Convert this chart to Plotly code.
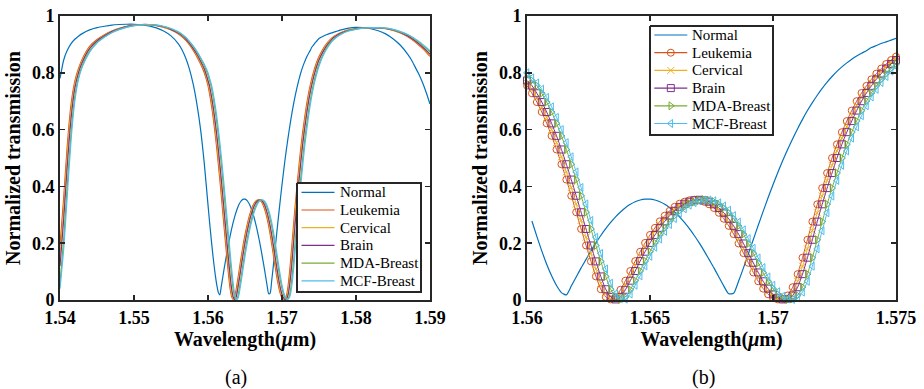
import plotly.graph_objects as go

# ---------------- data ----------------
wavelength = [
    1.5400, 1.5405, 1.5410, 1.5415, 1.5420, 1.5425, 1.5430, 1.5440, 1.5450, 1.5460,
    1.5470, 1.5480, 1.5490, 1.5500, 1.5510, 1.5520, 1.5530, 1.5540, 1.5550, 1.5560,
    1.5565, 1.5570, 1.5575, 1.5580, 1.5585, 1.5590, 1.5595,
    1.5600, 1.5602, 1.5604, 1.5606, 1.5608, 1.5610, 1.5612, 1.5614, 1.5616, 1.5618,
    1.5620, 1.5622, 1.5624, 1.5626, 1.5628, 1.5630, 1.5632, 1.5634, 1.5636, 1.5638,
    1.5640, 1.5642, 1.5644, 1.5646, 1.5648, 1.5650, 1.5652, 1.5654, 1.5656, 1.5658,
    1.5660, 1.5662, 1.5664, 1.5666, 1.5668, 1.5670, 1.5672, 1.5674, 1.5676, 1.5678,
    1.5680, 1.5682, 1.5684, 1.5686, 1.5688, 1.5690, 1.5692, 1.5694, 1.5696, 1.5698,
    1.5700, 1.5702, 1.5704, 1.5706, 1.5708, 1.5710, 1.5712, 1.5714, 1.5716, 1.5718,
    1.5720, 1.5722, 1.5724, 1.5726, 1.5728, 1.5730, 1.5732, 1.5734, 1.5736, 1.5738,
    1.5740, 1.5742, 1.5744, 1.5746, 1.5748, 1.5750,
    1.5755, 1.5760, 1.5765, 1.5770, 1.5775, 1.5780, 1.5790, 1.5800, 1.5810, 1.5820,
    1.5830, 1.5840, 1.5850, 1.5860, 1.5870, 1.5875, 1.5880, 1.5885, 1.5890, 1.5895, 1.5900,
]

normal = [
    0.780, 0.845, 0.880, 0.903, 0.918, 0.929, 0.938, 0.951, 0.959, 0.964,
    0.968, 0.970, 0.971, 0.971, 0.969, 0.965, 0.958, 0.947, 0.930, 0.902,
    0.880, 0.851, 0.812, 0.760, 0.690, 0.600, 0.480,
    0.335, 0.278, 0.224, 0.173, 0.126, 0.085, 0.051, 0.026, 0.018, 0.049,
    0.081, 0.113, 0.143, 0.173, 0.201, 0.227, 0.251, 0.273, 0.293, 0.310,
    0.325, 0.337, 0.346, 0.352, 0.355, 0.355, 0.352, 0.346, 0.337, 0.325,
    0.310, 0.293, 0.273, 0.251, 0.227, 0.201, 0.173, 0.143, 0.113, 0.081,
    0.049, 0.022, 0.024, 0.066, 0.113, 0.163, 0.213, 0.263, 0.312, 0.360,
    0.406, 0.450, 0.492, 0.531, 0.568, 0.603, 0.636, 0.667, 0.695, 0.721,
    0.745, 0.767, 0.787, 0.805, 0.821, 0.835, 0.848, 0.859, 0.869, 0.878,
    0.889, 0.896, 0.903, 0.909, 0.915, 0.921,
    0.928, 0.934, 0.939, 0.943, 0.947, 0.951, 0.957, 0.960, 0.959, 0.955,
    0.948, 0.937, 0.920, 0.897, 0.865, 0.845, 0.820, 0.795, 0.765, 0.730, 0.690,
]

leukemia = [
    0.190, 0.360, 0.550, 0.690, 0.770, 0.815, 0.848, 0.893, 0.917, 0.934,
    0.947, 0.957, 0.964, 0.968, 0.970, 0.969, 0.966, 0.960, 0.951, 0.937,
    0.927, 0.914, 0.898, 0.879, 0.857, 0.831, 0.800,
    0.755, 0.728, 0.697, 0.662, 0.622, 0.578, 0.530, 0.478, 0.424, 0.367,
    0.309, 0.250, 0.192, 0.136, 0.083, 0.038, 0.011, 0.002, 0.010, 0.036,
    0.068, 0.102, 0.137, 0.170, 0.201, 0.229, 0.254, 0.277, 0.297, 0.314,
    0.328, 0.339, 0.346, 0.351, 0.353, 0.351, 0.346, 0.337, 0.324, 0.307,
    0.286, 0.261, 0.232, 0.199, 0.165, 0.131, 0.097, 0.066, 0.040, 0.020,
    0.008, 0.002, 0.004, 0.016, 0.045, 0.091, 0.149, 0.212, 0.276, 0.337,
    0.394, 0.447, 0.500, 0.548, 0.591, 0.630, 0.667, 0.700, 0.729, 0.754,
    0.777, 0.797, 0.815, 0.831, 0.845, 0.857,
    0.882, 0.902, 0.917, 0.928, 0.936, 0.942, 0.951, 0.956, 0.958, 0.959,
    0.958, 0.955, 0.949, 0.940, 0.927, 0.918, 0.908, 0.897, 0.885, 0.872, 0.858,
]

cervical = [
    0.155, 0.320, 0.515, 0.665, 0.758, 0.808, 0.842, 0.889, 0.914, 0.932,
    0.946, 0.956, 0.963, 0.968, 0.970, 0.969, 0.967, 0.961, 0.952, 0.939,
    0.929, 0.917, 0.901, 0.883, 0.862, 0.836, 0.809,
    0.764, 0.742, 0.713, 0.680, 0.643, 0.600, 0.554, 0.504, 0.451, 0.396,
    0.338, 0.280, 0.221, 0.164, 0.109, 0.059, 0.022, 0.005, 0.003, 0.021,
    0.052, 0.085, 0.120, 0.154, 0.186, 0.215, 0.242, 0.266, 0.287, 0.306,
    0.321, 0.334, 0.343, 0.349, 0.352, 0.352, 0.349, 0.342, 0.331, 0.316,
    0.297, 0.274, 0.247, 0.216, 0.182, 0.148, 0.114, 0.081, 0.052, 0.029,
    0.013, 0.004, 0.002, 0.008, 0.028, 0.066, 0.119, 0.180, 0.244, 0.307,
    0.366, 0.421, 0.474, 0.525, 0.570, 0.610, 0.649, 0.684, 0.715, 0.742,
    0.766, 0.787, 0.806, 0.823, 0.838, 0.851,
    0.877, 0.898, 0.914, 0.926, 0.934, 0.941, 0.950, 0.955, 0.958, 0.959,
    0.958, 0.956, 0.950, 0.941, 0.929, 0.920, 0.911, 0.900, 0.888, 0.876, 0.862,
]

brain = [
    0.120, 0.285, 0.480, 0.640, 0.745, 0.800, 0.836, 0.885, 0.912, 0.930,
    0.945, 0.955, 0.963, 0.967, 0.970, 0.970, 0.967, 0.962, 0.953, 0.940,
    0.931, 0.919, 0.904, 0.886, 0.866, 0.841, 0.814,
    0.773, 0.755, 0.728, 0.697, 0.662, 0.622, 0.578, 0.530, 0.478, 0.424,
    0.367, 0.309, 0.250, 0.192, 0.136, 0.083, 0.038, 0.011, 0.002, 0.010,
    0.036, 0.068, 0.102, 0.137, 0.170, 0.201, 0.229, 0.254, 0.277, 0.297,
    0.314, 0.328, 0.339, 0.346, 0.351, 0.353, 0.351, 0.346, 0.337, 0.324,
    0.307, 0.286, 0.261, 0.232, 0.199, 0.165, 0.131, 0.097, 0.066, 0.040,
    0.020, 0.008, 0.002, 0.004, 0.016, 0.045, 0.091, 0.149, 0.212, 0.276,
    0.337, 0.394, 0.447, 0.500, 0.548, 0.591, 0.630, 0.667, 0.700, 0.729,
    0.754, 0.777, 0.797, 0.815, 0.831, 0.845,
    0.872, 0.894, 0.911, 0.924, 0.933, 0.940, 0.949, 0.955, 0.958, 0.959,
    0.958, 0.956, 0.951, 0.942, 0.930, 0.922, 0.913, 0.902, 0.891, 0.879, 0.866,
]

mda_breast = [
    0.060, 0.215, 0.410, 0.590, 0.715, 0.785, 0.825, 0.877, 0.907, 0.927,
    0.942, 0.953, 0.961, 0.966, 0.969, 0.970, 0.968, 0.963, 0.955, 0.943,
    0.934, 0.923, 0.909, 0.892, 0.873, 0.850, 0.825,
    0.791, 0.773, 0.755, 0.728, 0.697, 0.662, 0.622, 0.578, 0.530, 0.478,
    0.424, 0.367, 0.309, 0.250, 0.192, 0.136, 0.083, 0.038, 0.011, 0.002,
    0.010, 0.036, 0.068, 0.102, 0.137, 0.170, 0.201, 0.229, 0.254, 0.277,
    0.297, 0.314, 0.328, 0.339, 0.346, 0.351, 0.353, 0.351, 0.346, 0.337,
    0.324, 0.307, 0.286, 0.261, 0.232, 0.199, 0.165, 0.131, 0.097, 0.066,
    0.040, 0.020, 0.008, 0.002, 0.004, 0.016, 0.045, 0.091, 0.149, 0.212,
    0.276, 0.337, 0.394, 0.447, 0.500, 0.548, 0.591, 0.630, 0.667, 0.700,
    0.729, 0.754, 0.777, 0.797, 0.815, 0.831,
    0.862, 0.886, 0.905, 0.919, 0.929, 0.937, 0.948, 0.954, 0.957, 0.959,
    0.959, 0.957, 0.952, 0.944, 0.933, 0.926, 0.917, 0.907, 0.897, 0.885, 0.873,
]

mcf_breast = [
    0.040, 0.180, 0.375, 0.565, 0.700, 0.777, 0.820, 0.873, 0.905, 0.925,
    0.941, 0.952, 0.960, 0.966, 0.969, 0.970, 0.968, 0.964, 0.956, 0.944,
    0.936, 0.925, 0.911, 0.895, 0.876, 0.854, 0.830,
    0.800, 0.782, 0.764, 0.742, 0.713, 0.680, 0.643, 0.600, 0.554, 0.504,
    0.451, 0.396, 0.338, 0.280, 0.221, 0.164, 0.109, 0.059, 0.022, 0.005,
    0.003, 0.021, 0.052, 0.085, 0.120, 0.154, 0.186, 0.215, 0.242, 0.266,
    0.287, 0.306, 0.321, 0.334, 0.343, 0.349, 0.352, 0.352, 0.349, 0.342,
    0.331, 0.316, 0.297, 0.274, 0.247, 0.216, 0.182, 0.148, 0.114, 0.081,
    0.052, 0.029, 0.013, 0.004, 0.002, 0.008, 0.028, 0.066, 0.119, 0.180,
    0.244, 0.307, 0.366, 0.421, 0.474, 0.525, 0.570, 0.610, 0.649, 0.684,
    0.715, 0.742, 0.766, 0.787, 0.806, 0.823,
    0.857, 0.882, 0.902, 0.917, 0.928, 0.936, 0.947, 0.953, 0.957, 0.959,
    0.959, 0.957, 0.953, 0.945, 0.935, 0.928, 0.919, 0.910, 0.900, 0.889, 0.877,
]

series_names = ["Normal", "Leukemia", "Cervical", "Brain", "MDA-Breast", "MCF-Breast"]
series_values = [normal, leukemia, cervical, brain, mda_breast, mcf_breast]
series_colors = ["#0072BD", "#D95319", "#EDB120", "#7E2F8E", "#77AC30", "#4DBEEE"]
series_symbols = [None, "circle-open", "x-thin-open", "square-open",
                  "triangle-right-open", "triangle-left-open"]

xticks_a = [1.54, 1.55, 1.56, 1.57, 1.58, 1.59]
xticks_b = [1.56, 1.565, 1.57, 1.575]
yticks = [0, 0.2, 0.4, 0.6, 0.8, 1]
ytick_labels = ["0", "0.2", "0.4", "0.6", "0.8", "1"]

# panel (b) zoom window
b_lo, b_hi = 1.5600, 1.5750

# ---------------- layout constants (pixels) ----------------
SERIF = "Liberation Serif, Times New Roman, Times, serif"
AXC = "#262626"
W, H = 924, 389
L_M, R_M, T_M, B_M = 60, 28, 16, 89
pw = W - L_M - R_M
ph = H - T_M - B_M


def px_to_xd(px):
    return (px - L_M) / pw


def px_to_yd(py):
    return (H - B_M - py) / ph


fig = go.Figure()

# panel (a): lines
for name, vals, col in zip(series_names, series_values, series_colors):
    fig.add_trace(go.Scatter(
        x=wavelength, y=vals, mode="lines", name=name, showlegend=False,
        line=dict(color=col, width=1.2, shape="spline", smoothing=0.6),
        xaxis="x", yaxis="y",
    ))

# panel (b): zoomed, with markers
for i, (name, vals, col, sym) in enumerate(zip(series_names, series_values, series_colors, series_symbols)):
    lo = 1.5602 if i == 0 else b_lo
    xs = [w for w in wavelength if lo - 1e-9 <= w <= b_hi + 1e-9]
    ys = [v for w, v in zip(wavelength, vals) if lo - 1e-9 <= w <= b_hi + 1e-9]
    if sym is None:
        fig.add_trace(go.Scatter(
            x=xs, y=ys, mode="lines", name=name, showlegend=False,
            line=dict(color=col, width=1.2, shape="spline", smoothing=0.6),
            xaxis="x2", yaxis="y2", cliponaxis=False,
        ))
    else:
        fig.add_trace(go.Scatter(
            x=xs, y=ys, mode="lines+markers", name=name, showlegend=False,
            line=dict(color=col, width=1.0, shape="spline", smoothing=0.6),
            marker=dict(symbol=sym, size=7, color=col, line=dict(width=1, color=col)),
            xaxis="x2", yaxis="y2", cliponaxis=False,
        ))

# ---------------- legends (drawn on a pixel-unit overlay axis) ----------------
legend_boxes = [
    dict(x0=297, x1=421, y0=183, y1=292, row0=192.3, line_x0=301.5, line_x1=334.5, text_x=337.5, markers=False),
    dict(x0=650, x1=773, y0=26, y1=135, row0=35.0, line_x0=654.3, line_x1=687.3, text_x=689.5, markers=True),
]
ROW = 17.7
annotations = []
for lb in legend_boxes:
    fig.add_trace(go.Scatter(
        x=[lb["x0"], lb["x1"], lb["x1"], lb["x0"], lb["x0"]],
        y=[lb["y0"], lb["y0"], lb["y1"], lb["y1"], lb["y0"]],
        mode="lines", fill="toself", fillcolor="#FFFFFF",
        line=dict(color=AXC, width=2), showlegend=False, hoverinfo="skip",
        xaxis="x3", yaxis="y3",
    ))
    for k, (name, col, sym) in enumerate(zip(series_names, series_colors, series_symbols)):
        yc = lb["row0"] + ROW * k
        fig.add_trace(go.Scatter(
            x=[lb["line_x0"], lb["line_x1"]], y=[yc, yc], mode="lines",
            line=dict(color=col, width=1.2), showlegend=False, hoverinfo="skip",
            xaxis="x3", yaxis="y3",
        ))
        if lb["markers"] and sym is not None:
            fig.add_trace(go.Scatter(
                x=[(lb["line_x0"] + lb["line_x1"]) / 2], y=[yc], mode="markers",
                marker=dict(symbol=sym, size=7, color=col, line=dict(width=1, color=col)),
                showlegend=False, hoverinfo="skip", xaxis="x3", yaxis="y3",
            ))
        annotations.append(dict(
            text=name, x=lb["text_x"], y=yc, xref="x3", yref="y3",
            xanchor="left", yanchor="middle", showarrow=False,
            font=dict(family=SERIF, size=15, color="#000000"),
        ))

annotations += [
    dict(text="(a)", x=px_to_xd(236), y=px_to_yd(377), xref="paper", yref="paper",
         showarrow=False, font=dict(family=SERIF, size=20, color="#000000"),
         xanchor="center", yanchor="middle"),
    dict(text="(b)", x=px_to_xd(703), y=px_to_yd(377), xref="paper", yref="paper",
         showarrow=False, font=dict(family=SERIF, size=20, color="#000000"),
         xanchor="center", yanchor="middle"),
]

axis_common = dict(
    showline=True, linecolor=AXC, linewidth=2, mirror="ticks",
    ticks="inside", ticklen=5, tickwidth=1.5, tickcolor=AXC,
    showgrid=False, zeroline=False, automargin=False,
    tickfont=dict(family=SERIF, size=18, color="#000000", weight="bold"),
)
xtitle = dict(text="Wavelength(<i>μ</i>m)",
              font=dict(family=SERIF, size=20, color="#000000", weight="bold"), standoff=3)
ytitle = dict(text="Normalized transmission",
              font=dict(family=SERIF, size=20, color="#000000", weight="bold"), standoff=6)

hidden = dict(visible=False, showgrid=False, zeroline=False, fixedrange=True, automargin=False)

fig.update_layout(
    width=W, height=H,
    margin=dict(l=L_M, r=R_M, t=T_M, b=B_M, autoexpand=False),
    paper_bgcolor="#FFFFFF", plot_bgcolor="rgba(0,0,0,0)",
    showlegend=False,
    xaxis=dict(domain=[0, px_to_xd(430)], range=[1.54, 1.59], tickvals=xticks_a,
               ticktext=[f"{v:g}" for v in xticks_a], title=xtitle, anchor="y", **axis_common),
    yaxis=dict(domain=[0, 1], range=[0, 1], tickvals=yticks, ticktext=ytick_labels,
               title=ytitle, anchor="x", **axis_common),
    xaxis2=dict(domain=[px_to_xd(527), 1], range=[1.56, 1.575], tickvals=xticks_b,
                ticktext=[f"{v:g}" for v in xticks_b], title=xtitle, anchor="y2", **axis_common),
    yaxis2=dict(domain=[0, 1], range=[0, 1], tickvals=yticks, ticktext=ytick_labels,
                title=ytitle, anchor="x2", **axis_common),
    xaxis3=dict(domain=[0, 1], range=[L_M, W - R_M], anchor="y3", **hidden),
    yaxis3=dict(domain=[0, 1], range=[H - B_M, T_M], anchor="x3", **hidden),
    annotations=annotations,
)

fig.write_html("out.html", config={"displayModeBar": False, "staticPlot": True},
               post_script="document.body.style.margin='0px';")
